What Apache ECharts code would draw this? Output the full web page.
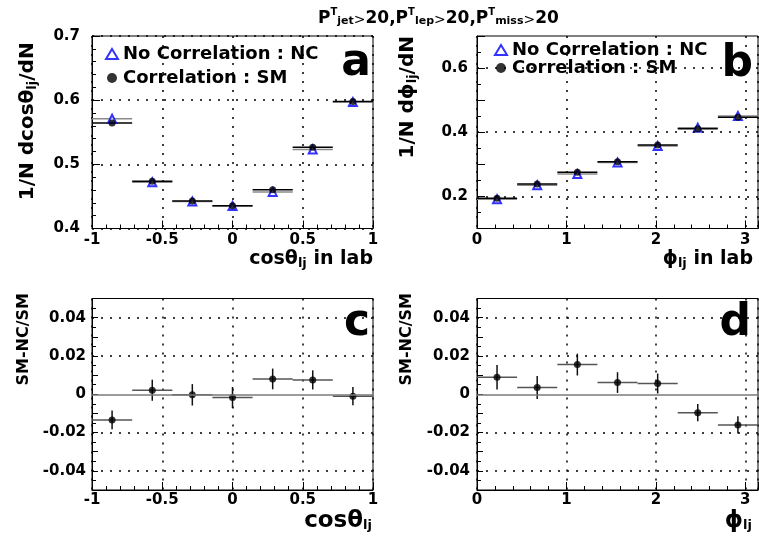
<!DOCTYPE html>
<html>
<head>
<meta charset="utf-8">
<script src="https://cdn.jsdelivr.net/npm/echarts@6/dist/echarts.min.js"></script>
<style>html,body{margin:0;padding:0;background:#fff}#c{width:759px;height:540px}</style>
</head>
<body>
<div id="c"></div>
<script>
// ---- data ----
const cosCenters = [-0.857, -0.571, -0.286, 0, 0.286, 0.571, 0.857];
const cosHalfWidth = 0.143;
const phiCenters = [0.224, 0.673, 1.122, 1.571, 2.020, 2.468, 2.917];
const phiHalfWidth = 0.224;

const ncCos = [0.571, 0.472, 0.442, 0.435, 0.457, 0.523, 0.597];
const smCos = [0.5645, 0.4735, 0.4427, 0.4355, 0.4604, 0.5266, 0.598];
const ncPhi = [0.191, 0.235, 0.270, 0.306, 0.357, 0.414, 0.451];
const smPhi = [0.194, 0.2385, 0.275, 0.308, 0.360, 0.411, 0.447];

const ratioCos = [-0.0134, 0.0021, -0.0003, -0.0017, 0.0080, 0.0075, -0.0010];
const ratioCosErr = [0.0049, 0.0055, 0.0056, 0.0055, 0.0054, 0.0050, 0.0048];
const ratioPhi = [0.0089, 0.0035, 0.0155, 0.0061, 0.0056, -0.0096, -0.0160];
const ratioPhiErr = [0.0064, 0.0060, 0.0057, 0.0054, 0.0052, 0.0045, 0.0045];

const gridPhiY = [0.2, 0.4, 0.6];
const gridRatioY = [-0.04, -0.02, 0.02, 0.04];

const NC_NAME = 'No Correlation : NC';
const SM_NAME = 'Correlation : SM';
const xTitles = ['cosθ{sub|lj} in lab', 'ϕ{sub|lj} in lab', 'cosθ{sub|lj}', 'ϕ{sub|lj}'];
const yTitles = ['1/N dcosθ{sub|lj}/dN', '1/N dϕ{sub|lj}/dN', 'SM-NC/SM', 'SM-NC/SM'];
const panelLetters = ['a', 'b', 'c', 'd'];

// ---- styling ----
const F = "'DejaVu Sans', sans-serif";
const dotted = {type: [2, 7], color: '#000', width: 1.5};

function pairs(xs, ys) { return xs.map((x, i) => [x, ys[i]]); }
function triples(xs, ys, es) { return xs.map((x, i) => [x, ys[i], es[i]]); }

function hbar(color, width, half) {
  return function (params, api) {
    const x = api.value(0), y = api.value(1);
    const p1 = api.coord([x - half, y]), p2 = api.coord([x + half, y]);
    return {type: 'line', shape: {x1: p1[0], y1: p1[1], x2: p2[0], y2: p2[1]},
            style: {stroke: color, lineWidth: width}};
  };
}
function errbar(hColor, vColor, half) {
  return function (params, api) {
    const x = api.value(0), y = api.value(1), e = api.value(2);
    const a = api.coord([x - half, y]), b = api.coord([x + half, y]);
    const t = api.coord([x, y + e]), d = api.coord([x, y - e]);
    return {type: 'group', children: [
      {type: 'line', shape: {x1: a[0], y1: a[1], x2: b[0], y2: b[1]}, style: {stroke: hColor, lineWidth: 1.5}},
      {type: 'line', shape: {x1: t[0], y1: t[1], x2: d[0], y2: d[1]}, style: {stroke: vColor, lineWidth: 1.5}}
    ]};
  };
}

function xAxisBase(idx, min, max, interval, margin) {
  return {
    type: 'value', gridIndex: idx, min: min, max: max, interval: interval,
    axisLine: {show: true, onZero: false, lineStyle: {color: '#000', width: 1}},
    axisTick: {show: true, inside: true, length: 8, lineStyle: {color: '#000'}},
    minorTick: {show: true, splitNumber: 5, length: 4, lineStyle: {color: '#000'}},
    axisLabel: {color: '#000', fontSize: 15, fontWeight: 'bold', fontFamily: F, margin: margin,
      formatter: function (v) {
        if (Math.abs(v - Math.round(v * 2) / 2) > 1e-6) return '';
        return String(Math.round(v * 2) / 2);
      }},
    splitLine: {show: true, lineStyle: dotted}
  };
}

const subRich = {
  sub: {fontSize: 13, fontWeight: 'bold', fontFamily: F, lineHeight: 14, verticalAlign: 'bottom', fill: '#000', color: '#000'}
};

function yName(text, size, gap, shift) {
  return {
    name: text, nameLocation: 'middle', nameRotate: 90, nameGap: gap,
    nameTextStyle: {color: '#000', fontSize: size, fontWeight: 'bold', fontFamily: F, lineHeight: 22,
      padding: [0, 0, 0, shift], rich: subRich}
  };
}

const xAxes = [
  xAxisBase(0, -1, 1, 0.5, 4),
  xAxisBase(1, 0, Math.PI, 1, 4),
  xAxisBase(2, -1, 1, 0.5, 3),
  xAxisBase(3, 0, Math.PI, 1, 3)
];

function yAxisBase(idx, min, max, interval, minorSplit, margin, splitShow, fmt) {
  return {
    type: 'value', gridIndex: idx, min: min, max: max, interval: interval,
    axisLine: {show: true, onZero: false, lineStyle: {color: '#000', width: 1}},
    axisTick: {show: true, inside: true, length: 8, lineStyle: {color: '#000'}},
    minorTick: {show: true, splitNumber: minorSplit, length: 4, lineStyle: {color: '#000'}},
    axisLabel: {color: '#000', fontSize: 15, fontWeight: 'bold', fontFamily: F, margin: margin, formatter: fmt},
    splitLine: {show: splitShow, lineStyle: dotted}
  };
}
const fmtA = v => (Math.round(v * 10) / 10).toFixed(1);
const fmtB = v => (Math.round(v * 10) % 2 === 0 ? (Math.round(v * 10) / 10).toFixed(1) : '');
const fmtR = v => {
  const k = Math.round(v * 100);
  if (k % 2 !== 0) return '';
  if (k === 0) return '0';
  return (k / 100).toFixed(2);
};

const yAxes = [
  Object.assign(yAxisBase(0, 0.4, 0.7, 0.1, 5, 12, true, fmtA), yName(yTitles[0], 20, 53, 22)),
  Object.assign(yAxisBase(1, 0.1, 0.7, 0.1, 2, 9, false, fmtB), yName(yTitles[1], 20, 58, 70)),
  Object.assign(yAxisBase(2, -0.05, 0.05, 0.01, 2, 6, false, fmtR), yName(yTitles[2], 16, 57, 110)),
  Object.assign(yAxisBase(3, -0.05, 0.05, 0.01, 2, 7, false, fmtR), yName(yTitles[3], 16, 59, 110))
];
yAxes[2].axisTick.length = 6; yAxes[3].axisTick.length = 6;

const gridMark = vals => ({
  silent: true, symbol: ['none', 'none'], label: {show: false}, animation: false,
  lineStyle: dotted,
  data: vals.map(v => ({yAxis: v}))
});
const ratioMark = {
  silent: true, symbol: ['none', 'none'], label: {show: false}, animation: false,
  lineStyle: dotted,
  data: gridRatioY.map(v => ({yAxis: v})).concat([{yAxis: 0, lineStyle: {type: 'solid', color: '#7a7a7a', width: 1.5}}])
};

const series = [
  // panel a
  {type: 'custom', name: 'NC bins a', xAxisIndex: 0, yAxisIndex: 0, renderItem: hbar('#8a8a8a', 1.5, cosHalfWidth), data: pairs(cosCenters, ncCos), z: 2},
  {type: 'custom', name: 'SM bins a', xAxisIndex: 0, yAxisIndex: 0, renderItem: hbar('#000', 1.5, cosHalfWidth), data: pairs(cosCenters, smCos), z: 2},
  {type: 'scatter', name: NC_NAME, xAxisIndex: 0, yAxisIndex: 0, symbol: 'emptyTriangle', symbolSize: 8,
   itemStyle: {color: '#0000ff', borderColor: '#0000ff', borderWidth: 1.2}, data: pairs(cosCenters, ncCos), z: 3},
  {type: 'scatter', name: SM_NAME, xAxisIndex: 0, yAxisIndex: 0, symbol: 'circle', symbolSize: 7,
   itemStyle: {color: '#000'}, data: pairs(cosCenters, smCos), z: 4},
  // panel b
  {type: 'custom', name: 'NC bins b', xAxisIndex: 1, yAxisIndex: 1, renderItem: hbar('#8a8a8a', 1.5, phiHalfWidth), data: pairs(phiCenters, ncPhi), z: 2},
  {type: 'custom', name: 'SM bins b', xAxisIndex: 1, yAxisIndex: 1, renderItem: hbar('#000', 1.5, phiHalfWidth), data: pairs(phiCenters, smPhi), z: 2},
  {type: 'scatter', name: NC_NAME, xAxisIndex: 1, yAxisIndex: 1, symbol: 'emptyTriangle', symbolSize: 8,
   itemStyle: {color: '#0000ff', borderColor: '#0000ff', borderWidth: 1.2}, data: pairs(phiCenters, ncPhi), z: 3,
   markLine: gridMark(gridPhiY)},
  {type: 'scatter', name: SM_NAME, xAxisIndex: 1, yAxisIndex: 1, symbol: 'circle', symbolSize: 7,
   itemStyle: {color: '#000'}, data: pairs(phiCenters, smPhi), z: 4},
  // panel c
  {type: 'custom', name: 'ratio err c', xAxisIndex: 2, yAxisIndex: 2, renderItem: errbar('#555', '#111', cosHalfWidth),
   data: triples(cosCenters, ratioCos, ratioCosErr), z: 2},
  {type: 'scatter', name: 'SM-NC/SM cos', xAxisIndex: 2, yAxisIndex: 2, symbol: 'circle', symbolSize: 7,
   itemStyle: {color: '#000'}, data: pairs(cosCenters, ratioCos), z: 4, markLine: ratioMark},
  // panel d
  {type: 'custom', name: 'ratio err d', xAxisIndex: 3, yAxisIndex: 3, renderItem: errbar('#555', '#111', phiHalfWidth),
   data: triples(phiCenters, ratioPhi, ratioPhiErr), z: 2},
  {type: 'scatter', name: 'SM-NC/SM phi', xAxisIndex: 3, yAxisIndex: 3, symbol: 'circle', symbolSize: 7,
   itemStyle: {color: '#000'}, data: pairs(phiCenters, ratioPhi), z: 4, markLine: ratioMark}
];

const legendText = {color: '#000', fontSize: 18, fontWeight: 'bold', fontFamily: F};

function xTitle(text, x, y, size) {
  return {type: 'text', x: x, y: y, z: 10, silent: true,
    style: {text: text, font: 'bold ' + size + 'px ' + F, align: 'right', verticalAlign: 'top', fill: '#000',
      rich: {sub: {fontSize: 13, fontWeight: 'bold', fontFamily: F, lineHeight: 14, verticalAlign: 'bottom', fill: '#000'}},
      lineHeight: 22}};
}
function letter(text, x, y) {
  return {type: 'text', x: x, y: y, z: 10, silent: true,
    style: {text: text, font: 'bold 44px ' + F, align: 'right', verticalAlign: 'bottom', fill: '#000'}};
}

const gridCommon = {show: true, borderColor: '#000', borderWidth: 1, containLabel: false, outerBoundsMode: 'none'};

const option = {
  animation: false,
  backgroundColor: '#fff',
  textStyle: {fontFamily: F, fontWeight: 'bold'},
  title: {
    text: '{b|P}{sup|T}{sub|jet}{gt|>}{b|20,P}{sup|T}{sub|lep}{gt|>}{b|20,P}{sup|T}{sub|miss}{gt|>}{b|20}',
    left: 313, top: 2,
    textStyle: {rich: {
      b: {fontSize: 17, fontWeight: 'bold', fontFamily: F, lineHeight: 20, verticalAlign: 'bottom', color: '#000'},
      sup: {fontSize: 10, fontWeight: 'bold', fontFamily: F, lineHeight: 10, verticalAlign: 'top', color: '#000'},
      sub: {fontSize: 11, fontWeight: 'bold', fontFamily: F, lineHeight: 14, verticalAlign: 'bottom', color: '#000'},
      gt: {fontSize: 14, fontWeight: 'normal', fontFamily: F, lineHeight: 15, verticalAlign: 'bottom', color: '#000'}
    }}
  },
  legend: [
    {orient: 'vertical', left: 100, top: 40, itemWidth: 12, itemHeight: 10, itemGap: 6, itemTextGap: 5,
     data: [NC_NAME, SM_NAME], textStyle: legendText, selectedMode: false},
    {orient: 'vertical', left: 489, top: 36, itemWidth: 12, itemHeight: 10, itemGap: 0, itemTextGap: 8,
     data: [NC_NAME, SM_NAME], textStyle: legendText, selectedMode: false}
  ],
  grid: [
    Object.assign({left: 92, top: 36, width: 281, height: 192.5}, gridCommon),
    Object.assign({left: 477, top: 36, width: 281, height: 192.5}, gridCommon),
    Object.assign({left: 92, top: 298.5, width: 281, height: 191.5}, gridCommon),
    Object.assign({left: 477, top: 298.5, width: 281, height: 191.5}, gridCommon)
  ],
  xAxis: xAxes,
  yAxis: yAxes,
  series: series,
  graphic: [
    xTitle(xTitles[0], 373, 248, 19),
    xTitle(xTitles[1], 753, 248, 19),
    xTitle(xTitles[2], 372, 510, 23),
    xTitle(xTitles[3], 752, 510, 23),
    letter(panelLetters[0], 371, 86),
    letter(panelLetters[1], 753, 87),
    letter(panelLetters[2], 370, 346),
    letter(panelLetters[3], 751, 346)
  ]
};

const chart = echarts.init(document.getElementById('c'), null, {renderer: 'canvas'});
chart.setOption(option);
</script>
</body>
</html>
